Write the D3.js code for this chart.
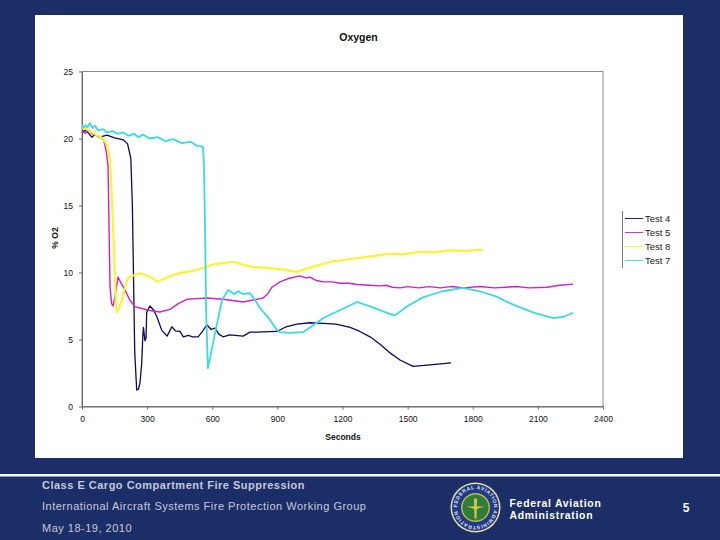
<!DOCTYPE html>
<html>
<head>
<meta charset="utf-8">
<script src="https://cdn.jsdelivr.net/npm/d3@7"></script>
<style>
    html, body { margin: 0; padding: 0; background: #1c2e68; }
    svg { display: block; font-family: "Liberation Sans", Arial, sans-serif; }
</style>
</head>
<body>
<div id="chart"></div>
<script>
// [seconds, % O2]
const test4 = [[0,20.5],[15,20.6],[30,20.4],[45,20.1],[60,20.3],[80,20.1],[115,20.25],[150,20.05],[190,19.9],[210,19.6],[225,18.5],[232,15],[238,9],[243,4],[252,1.23],[260,1.3],[267,1.75],[275,3.2],[280,5.2],[283,5.9],[290,4.9],[295,5.1],[298,7],[302,7.2],[313,7.5],[330,7.2],[345,6.7],[367,5.7],[392,5.25],[414,5.95],[430,5.65],[451,5.6],[467,5.2],[490,5.3],[510,5.2],[535,5.2],[555,5.6],[575,6.1],[595,5.75],[613,5.85],[630,5.4],[650,5.2],[680,5.35],[742,5.25],[774,5.55],[806,5.55],[898,5.6],[940,5.95],[990,6.15],[1050,6.25],[1112,6.2],[1170,6.15],[1235,5.9],[1280,5.6],[1327,5.2],[1373,4.65],[1419,4],[1465,3.47],[1525,3],[1603,3.1],[1700,3.25]];
const test5 = [[0,20.5],[15,20.4],[30,20.6],[50,20.3],[75,20.2],[100,19.9],[112,19],[120,17.9],[125,13],[129,9],[136,7.7],[143,7.5],[152,8.2],[166,9.65],[180,9.2],[198,8.7],[220,7.95],[244,7.45],[300,7.2],[359,7.05],[405,7.25],[445,7.7],[484,8],[530,8.05],[575,8.1],[650,8],[742,7.8],[790,7.95],[834,8.1],[855,8.4],[875,8.9],[912,9.3],[950,9.55],[1004,9.75],[1030,9.6],[1050,9.65],[1080,9.4],[1112,9.3],[1150,9.3],[1190,9.2],[1230,9.2],[1267,9.1],[1320,9.05],[1373,9],[1400,9.05],[1430,8.9],[1465,8.85],[1500,8.95],[1550,8.85],[1600,8.95],[1650,8.85],[1700,8.95],[1760,8.85],[1834,8.95],[1900,8.85],[2000,8.95],[2060,8.85],[2142,8.9],[2200,9.05],[2262,9.13]];
const test8 = [[0,20.8],[25,20.7],[50,20.4],[75,20.2],[97,20],[115,19.5],[129,18.5],[138,15.5],[147,11.8],[152,9.5],[156,7.6],[161,7.05],[172,7.4],[184,7.95],[198,8.9],[212,9.6],[240,9.8],[267,9.95],[310,9.7],[350,9.3],[400,9.7],[451,9.95],[530,10.2],[604,10.6],[650,10.7],[696,10.8],[740,10.6],[788,10.4],[850,10.35],[912,10.25],[990,10.05],[1060,10.4],[1143,10.8],[1280,11.1],[1373,11.3],[1415,11.4],[1480,11.35],[1557,11.55],[1620,11.5],[1700,11.65],[1760,11.6],[1848,11.7]];
const test7 = [[0,21],[8,20.8],[15,21],[25,20.85],[37,21.15],[48,20.8],[60,20.95],[75,20.6],[97,20.7],[115,20.45],[140,20.55],[165,20.35],[190,20.45],[215,20.2],[240,20.35],[260,20.1],[281,20.3],[310,20],[350,20.1],[385,19.8],[420,19.95],[460,19.65],[500,19.75],[530,19.45],[557,19.4],[562,18],[567,13],[572,7],[580,2.85],[595,4],[613,5.5],[630,6.8],[645,7.95],[673,8.7],[700,8.4],[720,8.6],[740,8.4],[774,8.45],[795,8],[820,7.35],[860,6.6],[898,5.7],[912,5.55],[960,5.5],[1018,5.55],[1060,6],[1112,6.6],[1190,7.2],[1267,7.8],[1340,7.4],[1419,6.9],[1442,6.8],[1500,7.5],[1571,8.15],[1660,8.6],[1755,8.85],[1834,8.6],[1910,8.2],[1986,7.6],[2080,7],[2170,6.6],[2220,6.7],[2262,7]];

const series = [
    {name: 'Test 4', values: test4, color: '#0a0a60', width: 1.3},
    {name: 'Test 5', values: test5, color: '#cc22c4', width: 1.4},
    {name: 'Test 8', values: test8, color: '#fbf430', width: 2.2},
    {name: 'Test 7', values: test7, color: '#38dbe4', width: 1.8}
];

const xTicks = [0, 300, 600, 900, 1200, 1500, 1800, 2100, 2400];
const yTicks = [0, 5, 10, 15, 20, 25];

const footerLines = ['Class E Cargo Compartment Fire Suppression', 'International Aircraft Systems Fire Protection Working Group', 'May 18-19, 2010'];
const agencyLines = ['Federal Aviation', 'Administration'];

const width = 720,
    height = 540,
    plot = {left: 82, right: 603, top: 71.5, bottom: 406.5};

const svg = d3.select('#chart')
    .append('svg')
    .attr('width', width)
    .attr('height', height);

svg.append('rect').attr('width', width).attr('height', height).attr('fill', '#1c2e68');
svg.append('rect')
    .attr('x', 35).attr('y', 15)
    .attr('width', 648).attr('height', 443)
    .attr('fill', '#fff');

const x = d3.scaleLinear().domain([0, 2400]).range([plot.left, plot.right]);
const y = d3.scaleLinear().domain([0, 25]).range([plot.bottom, plot.top]);

svg.append('rect')
    .attr('x', plot.left).attr('y', plot.top)
    .attr('width', plot.right - plot.left).attr('height', plot.bottom - plot.top)
    .attr('fill', 'none')
    .attr('stroke', '#8a8a8a');

function styleAxis(g) {
    g.selectAll('.domain, line').attr('stroke', '#666');
    g.selectAll('text').attr('font-size', 8.5).attr('fill', '#111').attr('font-family', 'inherit');
}

svg.append('g')
    .attr('transform', 'translate(0,' + plot.bottom + ')')
    .call(d3.axisBottom(x).tickValues(xTicks).tickFormat(d3.format('d')).tickSize(3).tickPadding(6).tickSizeOuter(0))
    .call(styleAxis);

svg.append('g')
    .attr('transform', 'translate(' + plot.left + ',0)')
    .call(d3.axisLeft(y).tickValues(yTicks).tickSize(3).tickPadding(6).tickSizeOuter(0))
    .call(styleAxis);

const line = d3.line()
    .x(d => x(d[0]))
    .y(d => y(d[1]));

// Draw in legend order so the cyan ends up on top, as in the picture
svg.selectAll('.series')
    .data(series)
    .enter()
    .append('path')
    .attr('class', 'series')
    .attr('fill', 'none')
    .attr('stroke', d => d.color)
    .attr('stroke-width', d => d.width)
    .attr('stroke-linejoin', 'round')
    .attr('d', d => line(d.values));

// Titles
svg.append('text').attr('x', 358.5).attr('y', 41).attr('text-anchor', 'middle')
    .attr('font-size', 10.5).attr('font-weight', 'bold').attr('fill', '#111').text('Oxygen');
svg.append('text').attr('x', 343).attr('y', 440).attr('text-anchor', 'middle')
    .attr('font-size', 8.5).attr('font-weight', 'bold').attr('fill', '#111').text('Seconds');
svg.append('text').attr('transform', 'translate(58,238) rotate(-90)').attr('text-anchor', 'middle')
    .attr('font-size', 8.5).attr('font-weight', 'bold').attr('fill', '#111').text('% O2');

// Legend
const legend = svg.append('g');
legend.append('line').attr('x1', 622.5).attr('x2', 622.5).attr('y1', 211).attr('y2', 268).attr('stroke', '#777');
const legendRow = d3.scalePoint().domain(series.map(d => d.name)).range([218.5, 260.5]);
const legendItem = legend.selectAll('g')
    .data(series)
    .enter()
    .append('g')
    .attr('transform', d => 'translate(625,' + legendRow(d.name) + ')');
legendItem.append('line').attr('x2', 18).attr('stroke', d => d.color).attr('stroke-width', 0.9);
legendItem.append('text').attr('x', 20).attr('y', 3.5).attr('font-size', 9.5).attr('fill', '#222').text(d => d.name);

// Footer
svg.append('rect').attr('x', 0).attr('y', 474).attr('width', width).attr('height', 2.5).attr('fill', '#fff');
const footerY = [489, 510, 532];
svg.selectAll('.footer')
    .data(footerLines)
    .enter()
    .append('text')
    .attr('class', 'footer')
    .attr('x', 42)
    .attr('y', (d, i) => footerY[i])
    .attr('font-size', 11)
    .attr('letter-spacing', 0.5)
    .attr('font-weight', (d, i) => i === 0 ? 'bold' : 'normal')
    .attr('fill', '#c4c9d8')
    .text(d => d);

// FAA seal
const seal = svg.append('g').attr('transform', 'translate(475.5,507.5)');
seal.append('circle').attr('r', 25).attr('fill', '#e8dca0');
seal.append('circle').attr('r', 23.5).attr('fill', '#1d3a8c');
seal.append('circle').attr('r', 14.5).attr('fill', '#c9b23a');
seal.append('circle').attr('r', 13).attr('fill', '#2f7d3a');
seal.append('path').attr('d', 'M-1.5,-9 L1.5,-9 L1,11 L-1,11 Z').attr('fill', '#d8c84a');
seal.append('path').attr('d', 'M-9,-1 L9,-1 L1,1.5 L-1,1.5 Z').attr('fill', '#d8c84a');
seal.append('path').attr('id', 'sealArc').attr('d', 'M-18.5,0 A18.5,18.5 0 1 1 18.5,0 A18.5,18.5 0 1 1 -18.5,0').attr('fill', 'none');
seal.append('text').attr('font-size', 5).attr('font-weight', 'bold').attr('fill', '#e6e6d8')
    .append('textPath').attr('href', '#sealArc').attr('textLength', 112)
    .text('FEDERAL AVIATION ADMINISTRATION');

svg.selectAll('.agency')
    .data(agencyLines)
    .enter()
    .append('text')
    .attr('class', 'agency')
    .attr('x', 509.5)
    .attr('y', (d, i) => 506.5 + i * 12)
    .attr('font-size', 10.4)
    .attr('letter-spacing', 0.75)
    .attr('font-weight', 'bold')
    .attr('fill', '#fff')
    .text(d => d);

svg.append('text').attr('x', 686).attr('y', 512).attr('text-anchor', 'middle')
    .attr('font-size', 12).attr('font-weight', 'bold').attr('fill', '#fff').text('5');
</script>
</body>
</html>
